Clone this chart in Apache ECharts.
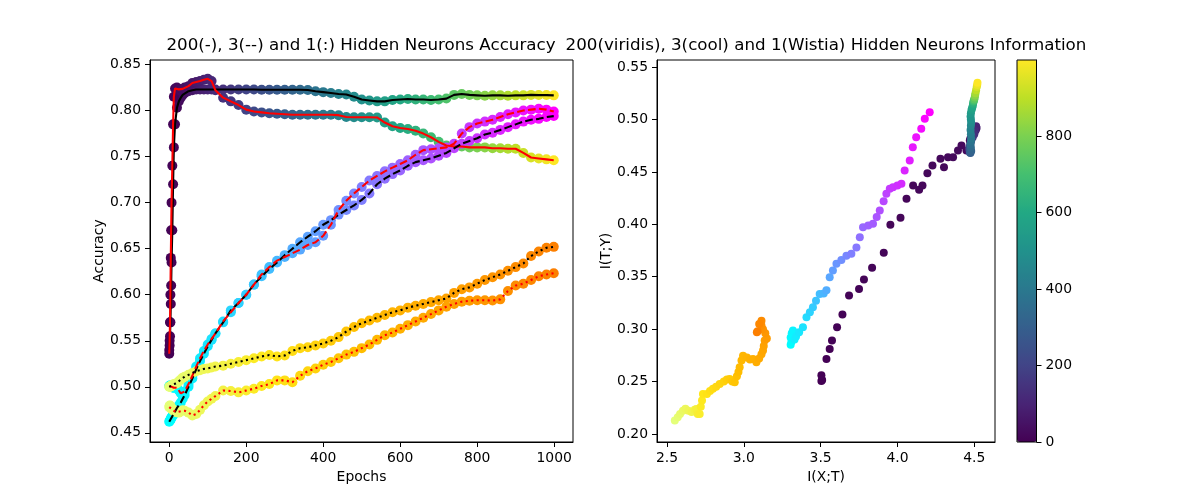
<!DOCTYPE html>
<html><head><meta charset="utf-8">
<script src="https://cdn.jsdelivr.net/npm/echarts/dist/echarts.min.js"></script>
<style>html,body{margin:0;padding:0;background:#fff}#c{width:1200px;height:496px}</style>
</head><body><div id="c"></div>
<script>
// ---- Left panel: accuracy per epoch ----
const epochs = [0,1,2,3,4,5,6,8,10,12,15,20,25,30,35,40,50,60,70,80,90,100,110,120,140,160,180,200,220,240,260,280,300,320,340,360,380,400,420,440,460,480,500,520,540,560,580,600,620,640,660,680,700,720,740,760,780,800,820,840,860,880,900,920,940,960,980,999];
const acc200Black = [0.540,0.545,0.555,0.570,0.590,0.610,0.635,0.670,0.720,0.760,
 0.785,0.803,0.810,0.814,0.817,0.819,0.821,0.822,0.8228,0.8228,
 0.8228,0.8228,0.8228,0.8228,
 0.8228,0.8228,0.8228,0.8228,0.8228,0.8226,0.8226,0.8226,0.8226,0.8226,0.8226,0.8224,
 0.821,0.820,0.819,0.818,0.8175,0.815,0.812,0.811,0.810,0.810,0.8115,0.812,
 0.8125,0.812,0.812,0.8115,0.812,0.813,0.817,0.818,0.817,0.8165,
 0.816,0.8165,0.8165,0.816,0.8165,0.8165,0.817,0.8168,0.8168,0.8165];
const acc200Red = [0.536,0.550,0.570,0.600,0.640,0.670,0.700,0.740,0.785,0.815,
 0.824,0.825,0.823,0.8215,0.8235,0.825,0.8265,0.830,0.831,0.832,
 0.8335,0.8345,0.832,0.822,
 0.814,0.810,0.806,0.801,0.799,0.798,0.797,0.7965,0.796,0.7955,0.7955,0.7955,
 0.7955,0.7955,0.7955,0.795,0.793,0.7928,0.7928,0.7928,0.7925,0.787,0.783,0.781,
 0.780,0.778,0.775,0.771,0.766,0.762,0.761,0.761,0.760,0.760,
 0.760,0.759,0.759,0.7585,0.7585,0.754,0.749,0.748,0.747,0.746];
const acc3Black = [0.462,0.463,0.4635,0.464,0.465,0.466,0.467,0.468,0.469,0.471,
 0.473,0.477,0.480,0.483,0.487,0.491,0.500,0.509,0.519,0.528,
 0.536,0.544,0.551,0.558,
 0.570,0.583,0.591,0.600,0.611,0.620,0.628,0.635,0.643,0.650,0.657,0.663,
 0.669,0.676,0.681,0.687,0.692,0.697,0.703,0.710,0.720,0.726,0.731,0.735,
 0.740,0.744,0.746,0.748,0.751,0.754,0.759,0.764,0.767,0.770,
 0.774,0.776,0.779,0.782,0.785,0.788,0.790,0.791,0.793,0.794];
const acc3Red = [0.501,0.501,0.5015,0.5014,0.501,0.5005,0.500,0.4995,0.499,0.499,
 0.4995,0.499,0.496,0.493,0.492,0.495,0.503,0.512,0.522,0.531,
 0.539,0.546,0.552,0.558,
 0.571,0.581,0.591,0.600,0.611,0.622,0.630,0.637,0.641,0.645,0.649,0.654,
 0.657,0.664,0.676,0.692,0.702,0.710,0.717,0.724,0.729,0.734,0.738,0.742,
 0.746,0.752,0.757,0.758,0.759,0.760,0.764,0.775,0.782,0.786,
 0.788,0.790,0.793,0.796,0.798,0.800,0.801,0.802,0.801,0.799];
const acc1Black = [0.500,0.500,0.500,0.5005,0.501,0.501,0.5014,0.502,0.502,0.503,
 0.503,0.504,0.506,0.508,0.510,0.511,0.513,0.515,0.517,0.518,
 0.5195,0.520,0.521,0.522,
 0.523,0.525,0.527,0.529,0.531,0.533,0.5345,0.533,0.534,0.539,0.542,0.543,
 0.545,0.547,0.550,0.554,0.560,0.565,0.569,0.572,0.575,0.578,0.581,0.583,
 0.586,0.588,0.590,0.592,0.594,0.596,0.602,0.606,0.608,0.612,
 0.616,0.619,0.622,0.626,0.630,0.634,0.642,0.647,0.651,0.652];
const acc1Red = [0.478,0.4795,0.4797,0.479,0.478,0.477,0.476,0.476,0.475,0.474,
 0.473,0.4725,0.472,0.4735,0.4745,0.474,0.472,0.469,0.4705,0.475,
 0.480,0.484,0.487,0.490,
 0.496,0.4955,0.494,0.496,0.498,0.501,0.503,0.507,0.507,0.505,0.512,0.517,
 0.520,0.524,0.527,0.531,0.535,0.538,0.542,0.546,0.551,0.556,0.559,0.563,
 0.567,0.571,0.575,0.579,0.583,0.587,0.590,0.5925,0.5935,0.594,
 0.594,0.5937,0.595,0.604,0.610,0.612,0.616,0.620,0.622,0.6234];

// ---- Right panel: information plane ----
const info200Epoch = [0,1,2,3,4,5,6,7,8,9,10,11,12,13,14,15,16,17,18,19,20,21,22,23,24,25,26,27,28,
 30,40,50,60,80,100,120,140,160,180,200,220,240,260,280,300,320,340,360,380,400,420,440,460,480,500,520,540,560,580,600,630,660,700,740,780,820,860,900,940,970,999];
const info200X = [3.505,3.51,3.505,3.538,3.559,3.574,3.607,3.642,3.685,3.75,3.782,3.835,3.911,3.954,4.02,4.059,4.102,4.141,4.163,4.195,4.228,4.28,4.303,4.329,4.362,4.394,4.417,4.449,4.471,
 4.475,4.49,4.50,4.51,4.515,4.512,4.505,4.50,4.49,4.48,4.475,4.47,4.468,4.47,4.472,4.475,4.48,4.478,4.475,4.478,4.48,4.478,4.476,4.478,4.48,4.478,4.476,4.478,4.482,4.486,4.49,4.492,4.495,4.497,4.50,4.503,4.505,4.508,4.512,4.516,4.519,4.521];
const info200Y = [0.2505,0.2515,0.256,0.2716,0.2811,0.2891,0.3018,0.3139,0.332,0.3384,0.3473,0.3585,0.3728,0.3995,0.4062,0.4243,0.437,0.4329,0.437,0.4488,0.4561,0.4625,0.4545,0.464,0.464,0.4704,0.4752,0.4704,0.480,
 0.482,0.485,0.488,0.490,0.492,0.4935,0.489,0.486,0.483,0.480,0.477,0.474,0.472,0.470,0.4685,0.468,0.470,0.473,0.476,0.479,0.482,0.486,0.490,0.494,0.497,0.500,0.503,0.506,0.509,0.511,0.513,0.515,0.517,0.518,0.519,0.521,0.523,0.525,0.528,0.531,0.533,0.535];
const info3Epoch = [0,10,20,30,45,60,75,90,110,140,170,200,230,260,290,320,350,380,410,440,470,500,530,560,590,615,640,665,690,715,740,765,790,810,830,855,880,905,930,955,980,999];
const info3X = [3.305,3.31,3.305,3.312,3.32,3.33,3.34,3.36,3.385,3.408,3.43,3.45,3.47,3.494,3.52,3.538,3.559,3.58,3.603,3.635,3.668,3.70,3.733,3.755,3.776,3.81,3.841,3.865,3.885,3.91,3.928,3.95,3.971,4.0,4.026,4.047,4.08,4.1,4.122,4.155,4.178,4.21];
const info3Y = [0.285,0.288,0.292,0.296,0.2986,0.290,0.293,0.297,0.3018,0.3113,0.316,0.3209,0.327,0.3336,0.334,0.337,0.3495,0.356,0.3623,0.366,0.370,0.372,0.378,0.3877,0.3972,0.399,0.4005,0.407,0.4132,0.422,0.4291,0.434,0.4354,0.437,0.4386,0.4513,0.4609,0.4736,0.4831,0.4911,0.5007,0.507];
const info1Epoch = [0,20,40,60,80,100,120,140,160,180,200,220,240,260,280,300,320,340,360,380,400,420,440,460,480,500,520,540,560,580,600,620,640,660,680,700,730,760,790,820,850,880,910,940,970,999];
const info1X = [2.551,2.57,2.585,2.604,2.62,2.64,2.66,2.68,2.691,2.70,2.713,2.72,2.728,2.734,2.76,2.78,2.799,2.82,2.843,2.87,2.89,2.908,2.925,2.941,2.955,2.965,2.973,2.985,2.995,3.02,3.04,3.06,3.082,3.10,3.115,3.125,3.13,3.136,3.15,3.14,3.125,3.115,3.115,3.10,3.09,3.085];
const info1Y = [0.2127,0.216,0.219,0.2222,0.224,0.222,0.221,0.223,0.2239,0.219,0.2191,0.226,0.232,0.2382,0.238,0.241,0.243,0.245,0.2477,0.250,0.252,0.2525,0.250,0.2493,0.255,0.259,0.2636,0.270,0.2747,0.273,0.271,0.2716,0.2683,0.272,0.276,0.2795,0.284,0.2891,0.291,0.296,0.300,0.3035,0.308,0.305,0.298,0.297];

// ---- Ticks ----
const leftXTicks = [0,200,400,600,800,1000];
const leftYTicks = [0.45,0.50,0.55,0.60,0.65,0.70,0.75,0.80,0.85];
const rightXTicks = [2.5,3.0,3.5,4.0,4.5];
const rightYTicks = [0.20,0.25,0.30,0.35,0.40,0.45,0.50,0.55];
const cbarTicks = [0,200,400,600,800];

const viridis = ['#440154','#482475','#414487','#355f8d','#2a788e','#21918c','#22a884','#44bf70','#7ad151','#bddf26','#fde725'];
const coolMap = ['#00ffff','#ff00ff'];
const wistia = ['#e4ff7a','#ffe81a','#ffbd00','#ffa000','#fc7f00'];

const FONT = 'DejaVu Sans';
function axis(gridIndex, min, max, ticks, digits, extra) {
  return Object.assign({
    type: 'value', gridIndex, min, max, splitLine: {show: false},
    axisLine: {show: true, onZero: false, lineStyle: {color: '#000', width: 1}},
    axisTick: {show: true, length: 5, lineStyle: {color: '#000', width: 1}, customValues: ticks},
    axisLabel: {color: '#000', fontSize: 13.9, fontFamily: FONT, margin: 9, customValues: ticks,
      formatter: v => digits === null ? String(v) : Number(v).toFixed(digits)},
    nameTextStyle: {color: '#000', fontSize: 13.9, fontFamily: FONT},
    nameLocation: 'middle'
  }, extra || {});
}

const pts = (xs, ys, es) => xs.map((x, i) => [x, ys[i], es[i]]);
const accPts = ys => epochs.map((e, i) => [e, ys[i], e]);

const series = [];
function accPair(ys, lineColor, dash) {
  series.push({type: 'scatter', xAxisIndex: 0, yAxisIndex: 0, data: accPts(ys), symbolSize: 10, z: 2, silent: true,
    itemStyle: {opacity: 1}});
  series.push({type: 'line', xAxisIndex: 0, yAxisIndex: 0, data: epochs.map((e, i) => [e, ys[i]]),
    symbol: 'none', z: 3, silent: true,
    lineStyle: {color: lineColor, width: 2.1, type: dash, cap: 'butt'}});
}
accPair(acc200Black, '#000000', 'solid');   // 0,1
accPair(acc200Red, '#ff0000', 'solid');     // 2,3
accPair(acc3Black, '#000000', [7.7, 3.3]);  // 4,5
accPair(acc3Red, '#ff0000', [7.7, 3.3]);    // 6,7
accPair(acc1Black, '#000000', [2.1, 3.4]);  // 8,9
accPair(acc1Red, '#ff0000', [2.1, 3.4]);    // 10,11
const infoStyle = {opacity: 1};
series.push({type: 'scatter', xAxisIndex: 1, yAxisIndex: 1, data: pts(info200X, info200Y, info200Epoch), symbolSize: 8, silent: true, itemStyle: infoStyle}); // 12
series.push({type: 'scatter', xAxisIndex: 1, yAxisIndex: 1, data: pts(info3X, info3Y, info3Epoch), symbolSize: 8, silent: true, itemStyle: infoStyle});     // 13
series.push({type: 'scatter', xAxisIndex: 1, yAxisIndex: 1, data: pts(info1X, info1Y, info1Epoch), symbolSize: 8, silent: true, itemStyle: infoStyle});     // 14

const chart = echarts.init(document.getElementById('c'), null, {renderer: 'canvas'});
chart.setOption({
  animation: false,
  backgroundColor: '#ffffff',
  textStyle: {fontFamily: FONT},
  title: [
    {text: '200(-), 3(--) and 1(:) Hidden Neurons Accuracy', left: 361, top: 37, textAlign: 'center', padding: 0,
     textStyle: {fontSize: 16.7, fontWeight: 'normal', color: '#000', fontFamily: FONT}},
    {text: '200(viridis), 3(cool) and 1(Wistia) Hidden Neurons Information', left: 826, top: 37, textAlign: 'center', padding: 0,
     textStyle: {fontSize: 16.7, fontWeight: 'normal', color: '#000', fontFamily: FONT}}
  ],
  grid: [
    {left: 150, top: 60, width: 423, height: 382, show: true, borderColor: '#000', borderWidth: 1, backgroundColor: 'transparent'},
    {left: 657, top: 60, width: 338, height: 382, show: true, borderColor: '#000', borderWidth: 1, backgroundColor: 'transparent'},
    {left: 1017, top: 60, width: 19.5, height: 382, show: true, borderColor: '#000', borderWidth: 1, backgroundColor: 'transparent', z: 10}
  ],
  xAxis: [
    axis(0, -50, 1049, leftXTicks, null, {name: 'Epochs', nameGap: 26}),
    axis(1, 2.435, 4.635, rightXTicks, 1, {name: 'I(X;T)', nameGap: 26}),
    {type: 'value', gridIndex: 2, min: 0, max: 1, show: false}
  ],
  yAxis: [
    axis(0, 0.4401, 0.8549, leftYTicks, 2, {name: 'Accuracy', nameGap: 44}),
    axis(1, 0.1923, 0.5568, rightYTicks, 2, {name: 'I(T;Y)', nameGap: 44}),
    axis(2, 0, 999, cbarTicks, null, {position: 'right', z: 10})
  ],
  visualMap: [
    {type: 'continuous', min: 0, max: 999, dimension: 2, seriesIndex: [0, 2, 12], inRange: {color: viridis},
     show: true, calculable: false, left: 1017, top: 60, itemWidth: 19.5, itemHeight: 382, padding: 0, text: null, hoverLink: false},
    {type: 'continuous', min: 0, max: 999, dimension: 2, seriesIndex: [4, 6, 13], inRange: {color: coolMap}, show: false},
    {type: 'continuous', min: 0, max: 999, dimension: 2, seriesIndex: [8, 10, 14], inRange: {color: wistia}, show: false}
  ],
  series: series
});
</script>
</body></html>
